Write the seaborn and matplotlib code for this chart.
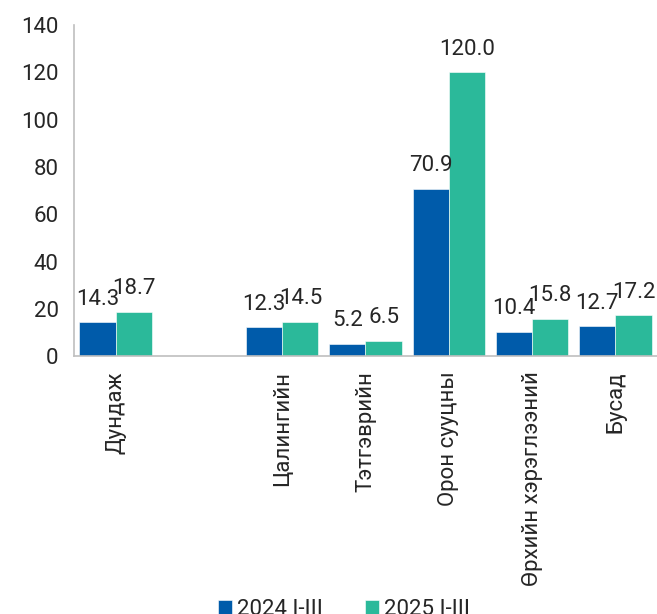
import pandas as pd
import seaborn as sns
import matplotlib.pyplot as plt

# Data
categories = ["Дундаж", " ", "Цалингийн", "Тэтгэврийн", "Орон сууцны", "Өрхийн хэрэглээний", "Бусад"]
data_categories = ["Дундаж", "Цалингийн", "Тэтгэврийн", "Орон сууцны", "Өрхийн хэрэглээний", "Бусад"]
values_2024 = [14.3, 12.3, 5.2, 70.9, 10.4, 12.7]
values_2025 = [18.7, 14.5, 6.5, 120.0, 15.8, 17.2]
series = ["2024 I-III", "2025 I-III"]
colors = ["#005BAA", "#2BB99A"]

df = pd.DataFrame({
    "Category": data_categories * 2,
    "Value": values_2024 + values_2025,
    "Series": [series[0]] * len(data_categories) + [series[1]] * len(data_categories),
})

sns.set_style("white")
plt.rcParams["font.family"] = ["Roboto", "DejaVu Sans"]
fs = 16
txt = "#262626"

fig = plt.figure(figsize=(6.57, 6.14), dpi=100)
ax = fig.add_axes([0.1126, 0.42, 0.8874, 0.539])

sns.barplot(data=df, x="Category", y="Value", hue="Series", order=categories,
            hue_order=series, palette=colors, saturation=1, width=0.87, gap=0,
            edgecolor="white", linewidth=0.4, ax=ax)

for cont in ax.containers:
    ax.bar_label(cont, fmt="%.1f", padding=9, fontsize=fs, color=txt)

ax.set_ylim(0, 140)
ax.set_yticks(range(0, 141, 20))
ax.set_xlim(-0.5, len(categories) - 0.5)
ax.set_xlabel("")
ax.set_ylabel("")

ax.tick_params(axis="y", labelsize=fs, length=5, color="#BFBFBF", labelcolor=txt, pad=6)
ax.tick_params(axis="x", labelsize=fs, length=5, color="#BFBFBF", labelcolor=txt,
               labelrotation=90, pad=6)

sns.despine(ax=ax)
for s in ["left", "bottom"]:
    ax.spines[s].set_color("#BFBFBF")
    ax.spines[s].set_linewidth(1.2)

ax.legend_.remove()
handles, labels = ax.get_legend_handles_labels()
fig.legend(handles, labels, loc="center", bbox_to_anchor=(0.524, 0.008), ncol=2,
           frameon=False, handlelength=0.6, handleheight=0.6,
           handletextpad=0.25, columnspacing=1.9, prop={"size": fs})

fig.savefig("out.png", dpi=100)
